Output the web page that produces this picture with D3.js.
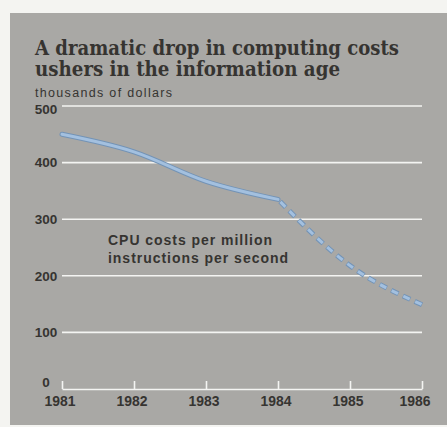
<!DOCTYPE html>
<html>
<head>
<meta charset="utf-8">
<script src="https://cdn.jsdelivr.net/npm/d3@7"></script>
<style>
html,body{margin:0;padding:0;background:#f4f4f1;}
svg{display:block;}
</style>
</head>
<body>
<svg id="chart" width="447" height="427"></svg>
<script>
const years = [1981, 1982, 1983, 1984, 1985, 1986];
const solidCosts = [450, 419, 367, 335];
const dashedYears = [1984, 1985, 1986];
const dashedCosts = [335, 218, 149];
const yTicks = [0, 100, 200, 300, 400, 500];
const titleLines = ["A dramatic drop in computing costs", "ushers in the information age"];
const unitLabel = "thousands of dollars";
const seriesLabel = ["CPU costs per million", "instructions per second"];

const svg = d3.select("#chart");
const ink = "#363431";
const sans = "'Liberation Sans', Arial, sans-serif";

svg.append("rect").attr("x", 10).attr("y", 13).attr("width", 437).attr("height", 412).attr("fill", "#a9a8a5");

const x = d3.scaleLinear().domain([1981, 1986]).range([62, 422]);
const y = d3.scaleLinear().domain([0, 500]).range([389, 106]);

// gridlines
svg.append("g").selectAll("line").data(yTicks.filter(d => d > 0)).join("line")
  .attr("x1", x(1981)).attr("x2", x(1986))
  .attr("y1", d => y(d)).attr("y2", d => y(d))
  .attr("stroke", "#f4f4f2").attr("stroke-width", 1.6);

// x axis
const xAxis = d3.axisTop(x).tickValues(years).tickFormat(d3.format("d")).tickSize(8).tickSizeOuter(0);
const gx = svg.append("g").attr("transform", `translate(0,${y(0)})`).call(xAxis);
gx.select(".domain").attr("stroke", "#f4f4f2").attr("stroke-width", 1.6);
gx.selectAll(".tick line").attr("stroke", "#f4f4f2").attr("stroke-width", 1.6);
gx.selectAll(".tick text").remove();
svg.append("g").selectAll("text").data(years).join("text")
  .attr("x", (d, i) => x(d) - 2 - (i === years.length - 1 ? 5 : 0)).attr("y", 405.5)
  .attr("text-anchor", "middle")
  .attr("font-family", sans)
  .attr("font-weight", "bold").attr("font-size", 15)
  .attr("textLength", 31).attr("lengthAdjust", "spacingAndGlyphs")
  .attr("fill", ink).text(d => d);

// y labels
svg.append("g").selectAll("text").data(yTicks).join("text")
  .attr("x", 46).attr("y", d => y(d) + (d === 0 ? -7 : d === 500 ? 3 : 0)).attr("dy", "0.36em")
  .attr("text-anchor", "middle")
  .attr("font-family", sans)
  .attr("font-weight", "bold").attr("font-size", 13.5)
  .attr("fill", ink).text(d => d);

// title
const titleWidths = [364, 305];
svg.append("g").selectAll("text").data(titleLines).join("text")
  .attr("x", 35).attr("y", (d, i) => 54.5 + i * 21.5)
  .attr("font-family", "'DejaVu Serif', serif")
  .attr("font-weight", "bold").attr("font-size", 19.5)
  .attr("textLength", (d, i) => titleWidths[i]).attr("lengthAdjust", "spacingAndGlyphs")
  .attr("fill", ink)
  .text(d => d);

svg.append("text").attr("x", 35).attr("y", 96.5)
  .attr("font-family", sans)
  .attr("font-size", 12.5).attr("textLength", 137).attr("fill", ink).text(unitLabel);

// series label
const seriesWidths = [164, 180];
svg.append("g").selectAll("text").data(seriesLabel).join("text")
  .attr("x", 108).attr("y", (d, i) => 245 + i * 17.5)
  .attr("font-family", sans)
  .attr("font-weight", "bold").attr("font-size", 14)
  .attr("textLength", (d, i) => seriesWidths[i])
  .attr("fill", ink).text(d => d);

// lines
const line = d3.line().x(d => x(d[0])).y(d => y(d[1])).curve(d3.curveMonotoneX);
const solidData = solidCosts.map((v, i) => [years[i], v]);
const dashedData = dashedCosts.map((v, i) => [dashedYears[i], v]);

svg.append("path").datum(solidData).attr("d", line)
  .attr("fill", "none").attr("stroke", "#7393b6").attr("stroke-width", 5).attr("stroke-linecap", "round");
svg.append("path").datum(solidData).attr("d", line)
  .attr("fill", "none").attr("stroke", "#a3c0df").attr("stroke-width", 3).attr("stroke-linecap", "round");
svg.append("path").datum(dashedData).attr("d", line)
  .attr("fill", "none").attr("stroke", "#7393b6").attr("stroke-width", 5)
  .attr("stroke-dasharray", "8,5").attr("stroke-dashoffset", -3);
svg.append("path").datum(dashedData).attr("d", line)
  .attr("fill", "none").attr("stroke", "#a3c0df").attr("stroke-width", 3)
  .attr("stroke-dasharray", "7,6").attr("stroke-dashoffset", -3.5);
</script>
</body>
</html>
